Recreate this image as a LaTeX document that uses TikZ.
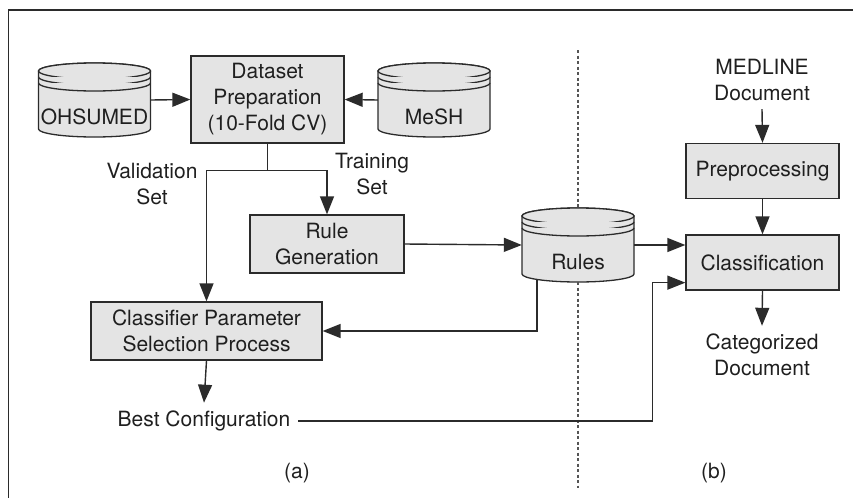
\documentclass[tikz,border=0pt]{standalone}
\usepackage{fontspec}
\setmainfont{TeX Gyre Heros}
\usepackage{tikz}
\usetikzlibrary{positioning}
\usetikzlibrary{arrows.meta,calc}

\definecolor{boxgray}{HTML}{E4E4E4}
\definecolor{inkgray}{HTML}{2B2B2B}

% cylinder with two rings under the lid: name, x, y, text
\newcommand{\dbcylinder}[4]{%
  \begin{scope}[shift={(#2,#3)}]
    \filldraw[dbshape] (-56,29) -- (-56,-29) arc[start angle=180, end angle=360, x radius=56, y radius=8]
      -- (56,29) arc[start angle=0, end angle=180, x radius=56, y radius=8] -- cycle;
    \draw[dbshape] (0,29) ellipse[x radius=56, y radius=8];
    \draw[dbshape] (-56,23) arc[start angle=180, end angle=360, x radius=56, y radius=8];
    \draw[dbshape] (-56,17) arc[start angle=180, end angle=360, x radius=56, y radius=8];
  \end{scope}
  \node[dbnode] (#1) at (#2,#3) {#4};}

\begin{document}
\begin{tikzpicture}[x=1pt, y=1pt,
    every node/.style={font=\fontsize{21}{26}\selectfont, text=black!88, align=center},
    block/.style={rectangle, draw=inkgray, fill=boxgray, line width=1.3pt, inner sep=0pt},
    dbshape/.style={draw=inkgray, fill=boxgray, line width=1.3pt},
    dbnode/.style={rectangle, inner sep=0pt, minimum width=112pt, minimum height=74pt, text height=50pt, text depth=1pt},
    plain/.style={inner sep=8pt},
    arr/.style={-{Triangle[length=18pt, width=14pt]}, line width=1.4pt, draw=inkgray},
    link/.style={line width=1.4pt, draw=inkgray},
    divider/.style={line width=1.1pt, draw=inkgray!80, dash pattern=on 3pt off 2.5pt}]
    \useasboundingbox (0,0) rectangle (853,-498);
    \draw[line width=1.6pt, inkgray] (853,-10) -- (8.5,-10) -- (8.5,-498);

    % (a) building the classifier
    \dbcylinder{ohsumed}{94.5}{-100}{OHSUMED}
    \dbcylinder{mesh}{434}{-100}{MeSH}
    \dbcylinder{rules}{578}{-245}{Rules}
    \node[block, minimum width=153pt, minimum height=87pt] (prep) at (267.5,-99.5) {Dataset\\Preparation\\(10-Fold CV)};
    \node[block, minimum width=154pt, minimum height=58pt] (rulegen) at (327,-244) {Rule\\Generation};
    \node[block, minimum width=231pt, minimum height=58pt] (clsel) at (206.5,-331) {Classifier Parameter\\Selection Process};
    \node[plain] (best) at (204,-421) {Best Configuration};
    \node (valset) at (152,-184) {Validation\\Set};
    \node (trainset) at (372,-174) {Training\\Set};
    \node (parta) at (297,-473) {(a)};

    % (b) classifying a document
    \node[plain] (medline) at (762,-80) {MEDLINE\\Document};
    \node[block, minimum width=153pt, minimum height=55pt] (preproc) at (762.5,-171) {Preprocessing};
    \node[block, minimum width=153pt, minimum height=55pt] (classif) at (762.5,-262.5) {Classification};
    \node[plain] (catdoc) at (762,-355) {Categorized\\Document};
    \node (partb) at (714,-473) {(b)};

    \draw[divider] (rules.north |- 0,-50) -- (rules.north);
    \draw[divider] (rules.south) -- (rules.south |- 0,-488);

    \draw[arr] (ohsumed.east) -- (prep.west);
    \draw[arr] (mesh.west) -- (prep.east);
    \draw[link] (prep.south) -- ++(0,-27) coordinate (split);
    \draw[arr] (split) -| (rulegen.north);
    \draw[arr] (split) -| (clsel.north);
    \draw[arr] (rulegen.east) -- (rules.west);
    \draw[arr] ($(rules.south)+(-41,2)$) |- (clsel.east);
    \draw[arr] (clsel.south) -- (best.north);
    \draw[arr] (rules.east) -- (rules.east -| classif.west);
    \draw[arr] (best.east) -| ($(classif.south west)+(-33,8)$) -- ([yshift=8pt]classif.south west);
    \draw[arr] (medline.south) -- (preproc.north);
    \draw[arr] (preproc.south) -- (classif.north);
    \draw[arr] (classif.south) -- (catdoc.north);
\end{tikzpicture}
\end{document}
